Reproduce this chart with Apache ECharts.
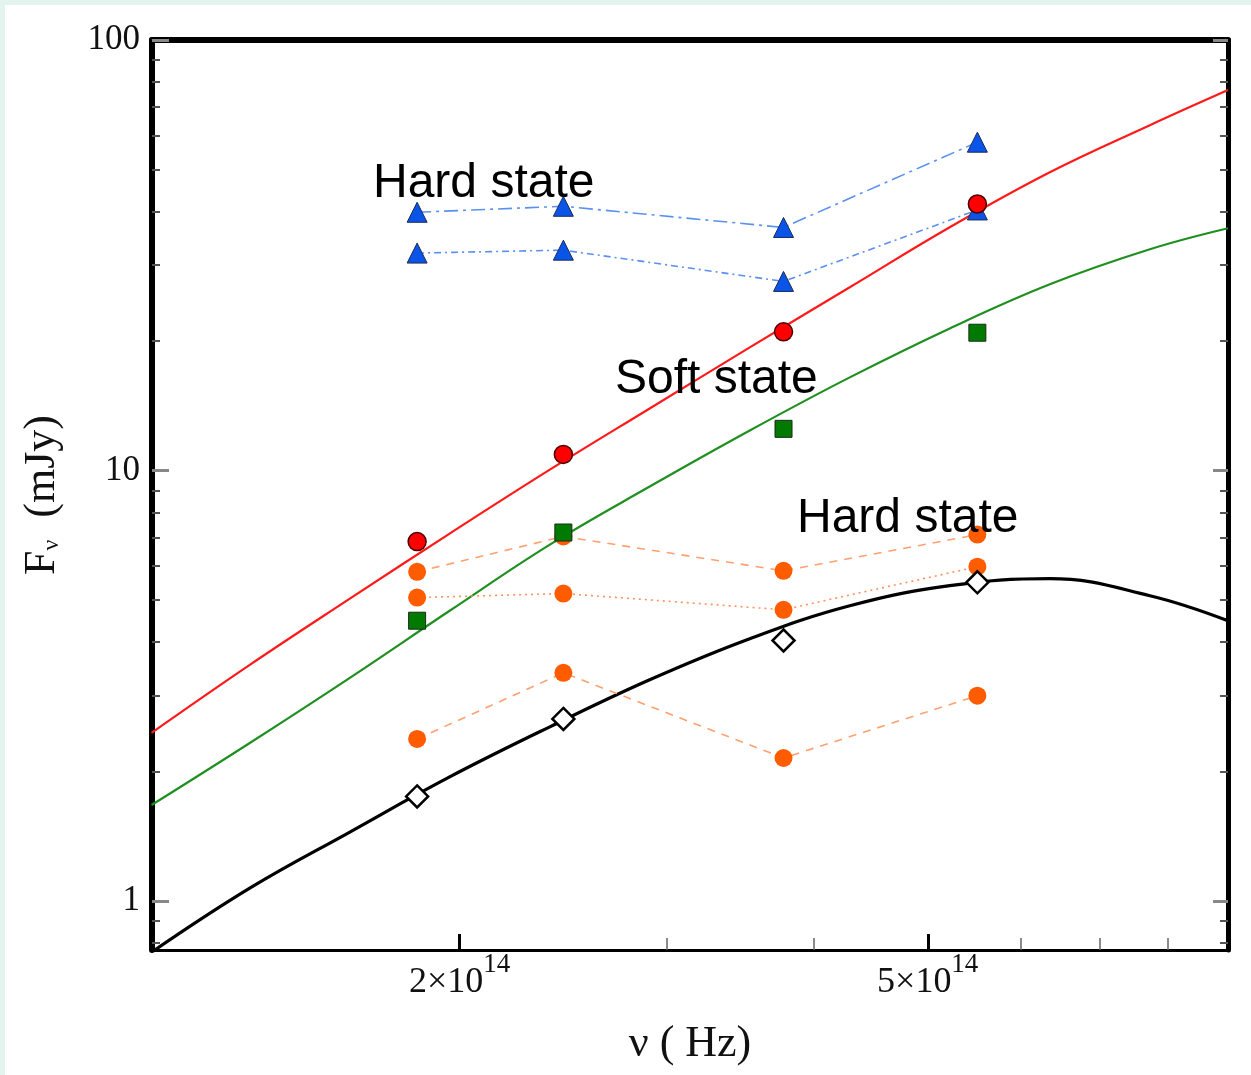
<!DOCTYPE html>
<html>
<head>
<meta charset="utf-8">
<title>Fν vs ν</title>
<script src="https://cdn.jsdelivr.net/npm/echarts@6/dist/echarts.min.js"></script>
<style>
  html, body { margin: 0; padding: 0; background: #e3f3ee; }
  #sed { position: absolute; left: 5px; top: 5px; width: 1246px; height: 1070px; background: #fff; }
</style>
</head>
<body>
<div id="sed"></div>
<script>
// photometric bands (H, J, I, V) in Hz
var bandFreq = [1.84e14, 2.45e14, 3.77e14, 5.51e14]

// observed fluxes, mJy
var hardBlueUpper = [39.8, 41.1, 36.7, 57.9]
var hardBlueLower = [32.0, 32.5, 27.5, 40.3]
var softRed = [6.84, 10.9, 21.0, 41.6]
var softGreen = [4.48, 7.18, 12.5, 20.9]
var hardOrangeA = [5.82, 7.03, 5.85, 7.10]
var hardOrangeB = [5.07, 5.18, 4.75, 5.98]
var hardOrangeC = [2.38, 3.39, 2.15, 3.00]
var diskDiamond = [1.75, 2.65, 4.03, 5.50]

// model curves
var modelFreq = [1.094e14, 1.326e14, 1.613e14, 1.961e14, 2.386e14, 2.901e14, 3.529e14, 4.292e14, 5.220e14, 6.350e14, 7.724e14, 9.0e14]
var redModelFlux = [2.459, 3.537, 5.04, 7.14, 10.05, 13.94, 19.32, 26.65, 36.74, 49.3, 63.4, 76.5]
var greenModelFlux = [1.672, 2.330, 3.301, 4.725, 6.73, 9.18, 12.39, 16.46, 21.39, 27.08, 32.66, 36.54]
var blackModelFlux = [0.761, 1.072, 1.447, 1.943, 2.540, 3.266, 4.068, 4.853, 5.403, 5.61, 5.121, 4.48]

// tick positions
var xMajorTicks = [2e14, 5e14]
var xMinorTicks = [3e14, 4e14, 6e14, 7e14, 8e14]
var yMajorTicks = [1, 10, 100]
var yMinorTicks = [0.8, 0.9, 2, 3, 4, 5, 6, 7, 8, 9, 20, 30, 40, 50, 60, 70, 80, 90]

var X_MIN = 1.095e14
var X_MAX = 9e14
var Y_MIN = 0.77
var Y_MAX = 100

var serif = '"Liberation Serif", "DejaVu Serif", serif'
var sans = '"Liberation Sans", Arial, sans-serif'

function pairs (xs, ys) {
  return xs.map(function (x, i) { return [x, ys[i]] })
}

function curve (name, ys, color, width) {
  return {
    name: name,
    type: 'line',
    data: pairs(modelFreq, ys),
    smooth: 0.4,
    showSymbol: false,
    symbol: 'none',
    lineStyle: { color: color, width: width },
    silent: true
  }
}

function points (name, ys, opts) {
  return {
    name: name,
    type: 'line',
    data: pairs(bandFreq, ys),
    symbol: opts.symbol,
    symbolSize: opts.size,
    showSymbol: true,
    lineStyle: opts.line ? { color: opts.lineColor, width: 1.6, type: opts.line } : { width: 0, opacity: 0 },
    itemStyle: { color: opts.fill, borderColor: opts.border || opts.fill, borderWidth: opts.borderWidth || 0, opacity: 1 },
    z: opts.z || 3,
    silent: true
  }
}

var myChart = echarts.init(document.getElementById('sed'))

var baseX = { type: 'log', min: X_MIN, max: X_MAX, splitLine: { show: false } }
var baseY = { type: 'log', min: Y_MIN, max: Y_MAX, splitLine: { show: false } }

// mantissa part "5×10" and the exponent "14" are two labels; the empty
// tokens keep the pair centred on the tick
var option = {
  animation: false,
  grid: { left: 147, top: 35, right: 23, bottom: 125, containLabel: false },
  xAxis: [
    Object.assign({}, baseX, {
      position: 'bottom',
      axisLine: { onZero: false, lineStyle: { color: '#000', width: 3 } },
      axisTick: { inside: true, customValues: xMajorTicks, length: 16, lineStyle: { color: '#000', width: 3 } },
      axisLabel: {
        customValues: xMajorTicks,
        margin: 13,
        formatter: function (v) {
          return '{b|' + Math.round(v / 1e14) + '×10}{g|}'
        },
        rich: {
          b: { fontFamily: serif, fontSize: 36, color: '#111', lineHeight: 40 },
          g: { width: 27 }
        }
      },
      name: 'ν ( Hz)',
      nameLocation: 'middle',
      nameGap: 72,
      nameTextStyle: { fontFamily: serif, fontSize: 44, color: '#111' }
    }),
    Object.assign({}, baseX, {
      position: 'bottom',
      axisLine: { show: false, onZero: false },
      axisTick: { inside: true, customValues: xMinorTicks, length: 12, lineStyle: { color: '#666', width: 1.5 } },
      axisLabel: {
        customValues: xMajorTicks,
        margin: 1,
        formatter: function () { return '{g|}{s|14}' },
        rich: {
          g: { width: 74 },
          s: { fontFamily: serif, fontSize: 27, color: '#111', lineHeight: 27 }
        }
      }
    }),
    Object.assign({}, baseX, {
      position: 'top',
      axisLine: { onZero: false, lineStyle: { color: '#000', width: 6 } },
      axisTick: { show: false },
      axisLabel: { show: false }
    })
  ],
  yAxis: [
    Object.assign({}, baseY, {
      position: 'left',
      axisLine: { onZero: false, lineStyle: { color: '#000', width: 6 } },
      axisTick: { inside: true, customValues: yMajorTicks, length: 17, lineStyle: { color: '#888', width: 3 } },
      axisLabel: {
        customValues: yMajorTicks,
        margin: 12,
        fontFamily: serif,
        fontSize: 35,
        color: '#111',
        formatter: function (v) { return String(Math.round(v)) }
      },
      name: 'F{sub|ν}  (mJy)',
      nameLocation: 'middle',
      nameRotate: 90,
      nameGap: 88,
      nameTextStyle: {
        fontFamily: serif,
        fontSize: 44,
        color: '#111',
        rich: {
          sub: { fontFamily: serif, fontSize: 24, color: '#111', verticalAlign: 'bottom', lineHeight: 44 }
        }
      }
    }),
    Object.assign({}, baseY, {
      position: 'left',
      axisLine: { show: false, onZero: false },
      axisTick: { inside: true, customValues: yMinorTicks, length: 8, lineStyle: { color: '#555', width: 2 } },
      axisLabel: { show: false }
    }),
    Object.assign({}, baseY, {
      position: 'right',
      axisLine: { onZero: false, lineStyle: { color: '#000', width: 5 } },
      axisTick: { inside: true, customValues: yMajorTicks, length: 15, lineStyle: { color: '#888', width: 3 } },
      axisLabel: { show: false }
    }),
    Object.assign({}, baseY, {
      position: 'right',
      axisLine: { show: false, onZero: false },
      axisTick: { inside: true, customValues: yMinorTicks, length: 8, lineStyle: { color: '#555', width: 2 } },
      axisLabel: { show: false }
    })
  ],
  graphic: [
    { type: 'text', x: 368, y: 179, style: { text: 'Hard state', font: '48px ' + sans, fill: '#000', verticalAlign: 'middle' }, z: 100 },
    { type: 'text', x: 610, y: 375, style: { text: 'Soft state', font: '48px ' + sans, fill: '#000', verticalAlign: 'middle' }, z: 100 },
    { type: 'text', x: 792, y: 514, style: { text: 'Hard state', font: '48px ' + sans, fill: '#000', verticalAlign: 'middle' }, z: 100 }
  ],
  series: [
    curve('model soft', redModelFlux, '#ff1a1a', 2.2),
    curve('model soft 2', greenModelFlux, '#1f8f1f', 2.2),
    curve('model hard', blackModelFlux, '#000', 3.2),
    points('hard C', hardOrangeC, { symbol: 'circle', size: 18, fill: '#ff5c00', line: [8, 7], lineColor: '#ffa070' }),
    points('hard B', hardOrangeB, { symbol: 'circle', size: 18, fill: '#ff5c00', line: [2, 4], lineColor: '#ff9060' }),
    points('hard A', hardOrangeA, { symbol: 'circle', size: 18, fill: '#ff5c00', line: [8, 7], lineColor: '#ffa070' }),
    points('disk', diskDiamond, { symbol: 'diamond', size: 22, fill: '#fff', border: '#000', borderWidth: 2.5, z: 4 }),
    points('soft green', softGreen, { symbol: 'rect', size: 17, fill: '#007a00', border: '#1a2a1a', borderWidth: 1, z: 5 }),
    points('hard blue lower', hardBlueLower, { symbol: 'triangle', size: 20, fill: '#0a55e8', border: '#1a2a55', borderWidth: 1, line: [7, 4, 2, 4], lineColor: '#5a90f0', z: 5 }),
    points('hard blue upper', hardBlueUpper, { symbol: 'triangle', size: 20, fill: '#0a55e8', border: '#1a2a55', borderWidth: 1, line: [14, 5, 3, 5], lineColor: '#5a90f0', z: 5 }),
    points('soft red', softRed, { symbol: 'circle', size: 18, fill: '#ff0000', border: '#4a0000', borderWidth: 1.5, z: 6 })
  ]
}

myChart.setOption(option)
window.addEventListener('resize', function () {
  myChart.resize()
})
</script>
</body>
</html>
